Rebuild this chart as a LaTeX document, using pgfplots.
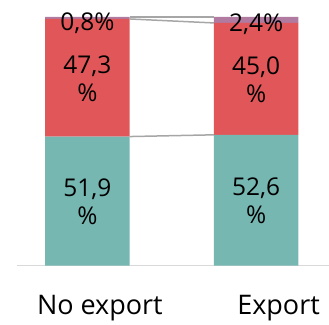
\documentclass[border=0pt]{standalone}
\usepackage{pgfplots}
\pgfplotsset{compat=1.18}
\usepackage{fontspec}
\setmainfont{Open Sans}
\definecolor{cteal}{HTML}{76B7B2}
\definecolor{cred}{HTML}{E15759}
\definecolor{cpurple}{HTML}{B07AA1}
\definecolor{cconn}{HTML}{A6A6A6}
\definecolor{caxis}{HTML}{D9D9D9}
\pgfplotsset{base/.style={scale only axis, width=312pt, height=249pt,
  xmin=-0.417, xmax=1.429, ymin=0, ymax=100, at={(0,0)}, anchor=south west}}
\begin{document}
\begin{tikzpicture}
\begin{axis}[base, ybar stacked, bar width=0.5,
  axis y line=none, axis x line*=bottom,
  x axis line style={draw=caxis, line width=1pt, -},
  xtick={0.074,1.133}, xticklabels={No export,Export},
  major tick length=0,
  xticklabel style={font=\fontsize{27}{30}\selectfont, anchor=base, yshift=-49pt, text=black}]
\addplot[fill=cteal, draw=none] coordinates {(0,51.9) (1,52.6)};
\addplot[fill=cred, draw=none] coordinates {(0,47.3) (1,45.0)};
\addplot[fill=cpurple, draw=none] coordinates {(0,0.8) (1,2.4)};
\end{axis}
\begin{axis}[base, hide axis, clip=false]
\addplot[cconn, line width=1.5pt, mark=none] coordinates {(0.25,51.9) (0.75,52.6)};
\addplot[cconn, line width=1.5pt, mark=none] coordinates {(0.25,99.2) (0.75,97.6)};
\addplot[cconn, line width=1.5pt, mark=none] coordinates {(0.25,100) (0.75,100)};
\addplot[draw=none, mark=none, point meta=explicit symbolic,
  nodes near coords={\pgfplotspointmeta\\\%},
  every node near coord/.style={anchor=center, align=center,
    font=\fontsize{24.5}{28}\selectfont, text=black}]
  coordinates {(0,25.7) [51,9] (0,75.0) [47,3] (1,26.0) [52,6] (1,74.6) [45,0]};
\addplot[draw=none, mark=none, point meta=explicit symbolic,
  nodes near coords={\pgfplotspointmeta\%},
  every node near coord/.style={anchor=center,
    font=\fontsize{24.5}{28}\selectfont, text=black}]
  coordinates {(0,97.4) [0,8] (1,96.9) [2,4]};
\end{axis}
\path (-17pt,-57pt) rectangle (312pt,266pt);
\end{tikzpicture}
\end{document}
